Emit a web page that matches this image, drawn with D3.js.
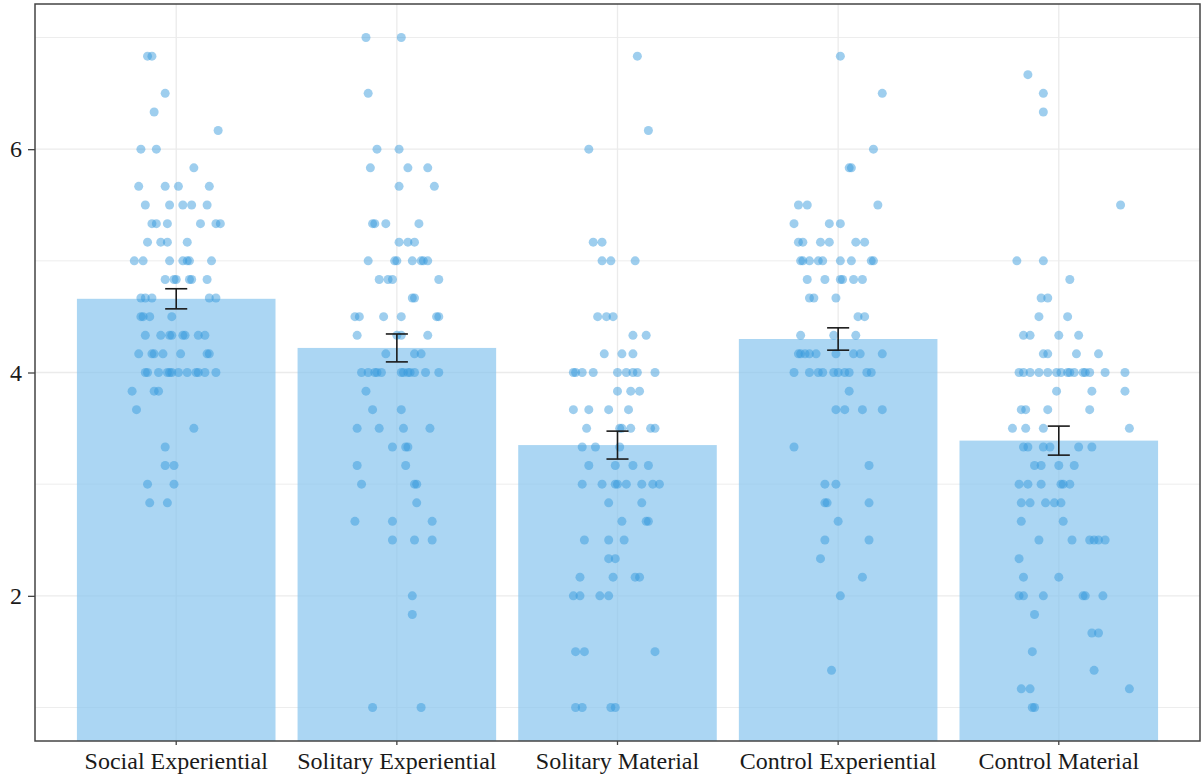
<!DOCTYPE html>
<html>
<head>
<meta charset="utf-8">
<script src="https://cdn.jsdelivr.net/npm/d3@7"></script>
<style>
  body { margin: 0; background: #fff; }
  svg { display: block; }
</style>
</head>
<body>
<svg id="chart" width="1204" height="779"></svg>
<script>
// Conditions on the x axis
const categories = [
  "Social Experiential",
  "Solitary Experiential",
  "Solitary Material",
  "Control Experiential",
  "Control Material"
];

// Group means and standard errors
const meanScores = [4.66, 4.22, 3.35, 4.30, 3.39];
const stdErrors = [0.09, 0.125, 0.125, 0.10, 0.13];

// Axis ticks
const yTicks = [2, 4, 6];
const yMinorTicks = [1, 3, 5, 7];

// Individual scores: [score, horizontal jitter offsets (in category steps)]
const socialExperiential = [
  [6.833, [-0.13, -0.11]],
  [6.5, [-0.05]],
  [6.333, [-0.10]],
  [6.167, [0.19]],
  [6, [-0.16, -0.09]],
  [5.833, [0.08]],
  [5.667, [-0.17, -0.05, 0.01, 0.15]],
  [5.5, [-0.14, -0.03, 0.03, 0.07, 0.14]],
  [5.333, [-0.11, -0.09, -0.04, 0.11, 0.18, 0.20]],
  [5.167, [-0.13, -0.07, -0.04, 0.05]],
  [5, [-0.19, -0.15, -0.03, 0.03, 0.05, 0.06, 0.16]],
  [4.833, [-0.05, -0.01, 0.00, 0.06, 0.07, 0.14]],
  [4.667, [-0.16, -0.14, -0.11, 0.15, 0.18]],
  [4.5, [-0.16, -0.15, -0.12, -0.02]],
  [4.333, [-0.14, -0.07, -0.03, -0.02, 0.03, 0.04, 0.10, 0.13]],
  [4.167, [-0.17, -0.11, -0.10, -0.06, 0.02, 0.14, 0.15]],
  [4, [-0.14, -0.13, -0.08, -0.04, -0.03, -0.02, 0.01, 0.05, 0.09, 0.10, 0.13, 0.18]],
  [3.833, [-0.20, -0.10, -0.08]],
  [3.667, [-0.18]],
  [3.5, [0.08]],
  [3.333, [-0.05]],
  [3.167, [-0.05, -0.01]],
  [3, [-0.13, -0.01]],
  [2.833, [-0.12, -0.04]]
];

const solitaryExperiential = [
  [7, [-0.14, 0.02]],
  [6.5, [-0.13]],
  [6, [-0.09, 0.01]],
  [5.833, [-0.12, 0.05, 0.14]],
  [5.667, [0.01, 0.17]],
  [5.333, [-0.11, -0.10, -0.05, 0.10]],
  [5.167, [0.01, 0.05, 0.08]],
  [5, [-0.13, -0.01, 0.00, 0.07, 0.11, 0.12, 0.14]],
  [4.833, [-0.08, -0.04, -0.02, 0.19]],
  [4.667, [0.07, 0.08]],
  [4.5, [-0.19, -0.17, -0.06, 0.02, 0.18, 0.19]],
  [4.333, [-0.18, 0.00, 0.02, 0.14]],
  [4.167, [-0.05, 0.08, 0.11]],
  [4, [-0.16, -0.13, -0.10, -0.09, -0.07, 0.02, 0.03, 0.05, 0.06, 0.08, 0.13, 0.19]],
  [3.833, [-0.14]],
  [3.667, [-0.11, 0.02]],
  [3.5, [-0.18, -0.08, 0.03, 0.15]],
  [3.333, [-0.02, 0.04, 0.05]],
  [3.167, [-0.18, 0.04]],
  [3, [-0.16, 0.08, 0.09]],
  [2.833, [0.09]],
  [2.667, [-0.19, -0.02, 0.16]],
  [2.5, [-0.02, 0.08, 0.16]],
  [2, [0.07]],
  [1.833, [0.07]],
  [1, [-0.11, 0.11]]
];

const solitaryMaterial = [
  [6.833, [0.09]],
  [6.167, [0.14]],
  [6, [-0.13]],
  [5.167, [-0.11, -0.07]],
  [5, [-0.07, -0.03, 0.08]],
  [4.5, [-0.09, -0.05, -0.02]],
  [4.333, [0.07, 0.13]],
  [4.167, [-0.06, 0.02, 0.07]],
  [4, [-0.20, -0.19, -0.16, -0.11, 0.00, 0.04, 0.07, 0.09, 0.17]],
  [3.833, [0.00, 0.06, 0.10]],
  [3.667, [-0.20, -0.13, -0.04, 0.05]],
  [3.5, [-0.14, 0.01, 0.02, 0.06, 0.15, 0.17]],
  [3.333, [-0.16, -0.10, 0.01]],
  [3.167, [-0.13, -0.01, 0.07, 0.14]],
  [3, [-0.16, -0.07, -0.01, 0.00, 0.04, 0.11, 0.16, 0.19]],
  [2.833, [-0.04, 0.11]],
  [2.667, [0.02, 0.13, 0.14]],
  [2.5, [-0.15, -0.04, 0.03]],
  [2.333, [-0.04, -0.01]],
  [2.167, [-0.17, -0.02, 0.08, 0.10]],
  [2, [-0.20, -0.17, -0.08, -0.04]],
  [1.5, [-0.19, -0.15, 0.17]],
  [1, [-0.19, -0.16, -0.03, -0.01]]
];

const controlExperiential = [
  [6.833, [0.01]],
  [6.5, [0.20]],
  [6, [0.16]],
  [5.833, [0.05, 0.06]],
  [5.5, [-0.18, -0.14, 0.18]],
  [5.333, [-0.20, -0.04, 0.01]],
  [5.167, [-0.18, -0.16, -0.08, -0.04, 0.08, 0.12]],
  [5, [-0.17, -0.16, -0.13, -0.09, -0.07, 0.01, 0.06, 0.15, 0.16]],
  [4.833, [-0.14, -0.06, 0.01, 0.02, 0.07, 0.11]],
  [4.667, [-0.13, -0.11, -0.01]],
  [4.5, [0.09, 0.12]],
  [4.333, [-0.17, -0.02, 0.08]],
  [4.167, [-0.18, -0.17, -0.15, -0.13, -0.10, -0.01, 0.07, 0.10, 0.20]],
  [4, [-0.20, -0.13, -0.09, -0.07, -0.02, 0.00, 0.03, 0.05, 0.13, 0.15]],
  [3.833, [0.05]],
  [3.667, [-0.01, 0.03, 0.11, 0.20]],
  [3.333, [-0.20]],
  [3.167, [0.14]],
  [3, [-0.06, -0.01]],
  [2.833, [-0.06, -0.05, 0.14]],
  [2.667, [0.00]],
  [2.5, [-0.06, 0.14]],
  [2.333, [-0.08]],
  [2.167, [0.11]],
  [2, [0.01]],
  [1.333, [-0.03]]
];

const controlMaterial = [
  [6.667, [-0.14]],
  [6.5, [-0.07]],
  [6.333, [-0.07]],
  [5.5, [0.28]],
  [5, [-0.19, -0.07]],
  [4.833, [0.05]],
  [4.667, [-0.08, -0.05]],
  [4.5, [-0.09, 0.04]],
  [4.333, [-0.16, -0.13, 0.00, 0.09]],
  [4.167, [-0.07, -0.05, 0.08, 0.18]],
  [4, [-0.18, -0.16, -0.13, -0.09, -0.05, -0.01, 0.01, 0.04, 0.05, 0.07, 0.11, 0.12, 0.14, 0.21, 0.30]],
  [3.833, [-0.01, 0.15, 0.30]],
  [3.667, [-0.17, -0.15, -0.05, 0.14]],
  [3.5, [-0.21, -0.15, -0.07, 0.32]],
  [3.333, [-0.16, -0.14, -0.07, -0.04, 0.09, 0.15]],
  [3.167, [-0.11, -0.08, 0.00, 0.07]],
  [3, [-0.18, -0.14, -0.08, 0.01, 0.02, 0.05]],
  [2.833, [-0.17, -0.13, -0.06, -0.02, 0.01]],
  [2.667, [-0.17, 0.02]],
  [2.5, [-0.09, 0.06, 0.14, 0.16, 0.18, 0.21]],
  [2.333, [-0.18]],
  [2.167, [-0.16, 0.00]],
  [2, [-0.18, -0.16, -0.07, 0.11, 0.12, 0.20]],
  [1.833, [-0.11]],
  [1.667, [0.15, 0.18]],
  [1.5, [-0.12]],
  [1.333, [0.16]],
  [1.167, [-0.17, -0.13, 0.32]],
  [1, [-0.12, -0.11]]
];

const groupScores = [
  socialExperiential,
  solitaryExperiential,
  solitaryMaterial,
  controlExperiential,
  controlMaterial
];

// ---- layout ----
const panel = { left: 35, top: 4, right: 1200, bottom: 741 };
const svg = d3.select("#chart");
const FONT = "'Liberation Serif', 'Times New Roman', serif";

const x = d3.scaleBand()
  .domain(categories)
  .range([panel.left, panel.right])
  .paddingInner(0.1)
  .paddingOuter(0.19);

const y = d3.scaleLinear()
  .domain([0.7, 7.3])
  .range([panel.bottom, panel.top]);

const cx = c => x(c) + x.bandwidth() / 2;

svg.append("defs").append("clipPath").attr("id", "panel-clip")
  .append("rect")
  .attr("x", panel.left).attr("y", panel.top)
  .attr("width", panel.right - panel.left)
  .attr("height", panel.bottom - panel.top);

// background grid
const grid = svg.append("g");
grid.selectAll("line.minor").data(yMinorTicks).join("line")
  .attr("x1", panel.left).attr("x2", panel.right)
  .attr("y1", d => y(d)).attr("y2", d => y(d))
  .attr("stroke", "#ebebeb").attr("stroke-width", 0.9);
grid.selectAll("line.major").data(yTicks).join("line")
  .attr("x1", panel.left).attr("x2", panel.right)
  .attr("y1", d => y(d)).attr("y2", d => y(d))
  .attr("stroke", "#ebebeb").attr("stroke-width", 1.3);
grid.selectAll("line.vert").data(categories).join("line")
  .attr("x1", d => cx(d)).attr("x2", d => cx(d))
  .attr("y1", panel.top).attr("y2", panel.bottom)
  .attr("stroke", "#ebebeb").attr("stroke-width", 1.3);

const plot = svg.append("g").attr("clip-path", "url(#panel-clip)");

// mean bars
plot.selectAll("rect.bar").data(categories).join("rect")
  .attr("class", "bar")
  .attr("x", d => x(d))
  .attr("width", x.bandwidth())
  .attr("y", (d, i) => y(meanScores[i]))
  .attr("height", (d, i) => panel.bottom - y(meanScores[i]))
  .attr("fill", "#87c5ee")
  .attr("fill-opacity", 0.7);

// individual responses
const points = [];
groupScores.forEach((rows, gi) => {
  rows.forEach(([score, offsets]) => {
    offsets.forEach(o => points.push({ cat: categories[gi], score, o }));
  });
});
plot.selectAll("circle.pt").data(points).join("circle")
  .attr("class", "pt")
  .attr("cx", d => cx(d.cat) + d.o * x.step())
  .attr("cy", d => y(d.score))
  .attr("r", 4.5)
  .attr("fill", "#3498db")
  .attr("fill-opacity", 0.48);

// standard error bars
const capHalf = x.step() * 0.05;
const eb = svg.append("g").attr("stroke", "#1a1a1a").attr("stroke-width", 1.6);
categories.forEach((c, i) => {
  const lo = y(meanScores[i] - stdErrors[i]);
  const hi = y(meanScores[i] + stdErrors[i]);
  const xc = cx(c);
  eb.append("line").attr("x1", xc).attr("x2", xc).attr("y1", lo).attr("y2", hi);
  eb.append("line").attr("x1", xc - capHalf).attr("x2", xc + capHalf).attr("y1", lo).attr("y2", lo);
  eb.append("line").attr("x1", xc - capHalf).attr("x2", xc + capHalf).attr("y1", hi).attr("y2", hi);
});

// panel border
svg.append("rect")
  .attr("x", panel.left).attr("y", panel.top)
  .attr("width", panel.right - panel.left)
  .attr("height", panel.bottom - panel.top)
  .attr("fill", "none").attr("stroke", "#444").attr("stroke-width", 1.5);

// axes
const yAxis = svg.append("g")
  .attr("transform", `translate(${panel.left},0)`)
  .call(d3.axisLeft(y).tickValues(yTicks).tickSize(7).tickPadding(6).tickFormat(d3.format("d")));
const xAxis = svg.append("g")
  .attr("transform", `translate(0,${panel.bottom})`)
  .call(d3.axisBottom(x).tickSize(4).tickPadding(7));

[yAxis, xAxis].forEach(g => {
  g.select(".domain").remove();
  g.selectAll(".tick line").attr("stroke", "#444").attr("stroke-width", 1.3);
  g.selectAll(".tick text")
    .attr("fill", "#1a1a1a")
    .style("font-family", FONT)
    .style("font-size", "24px");
});
</script>
</body>
</html>
